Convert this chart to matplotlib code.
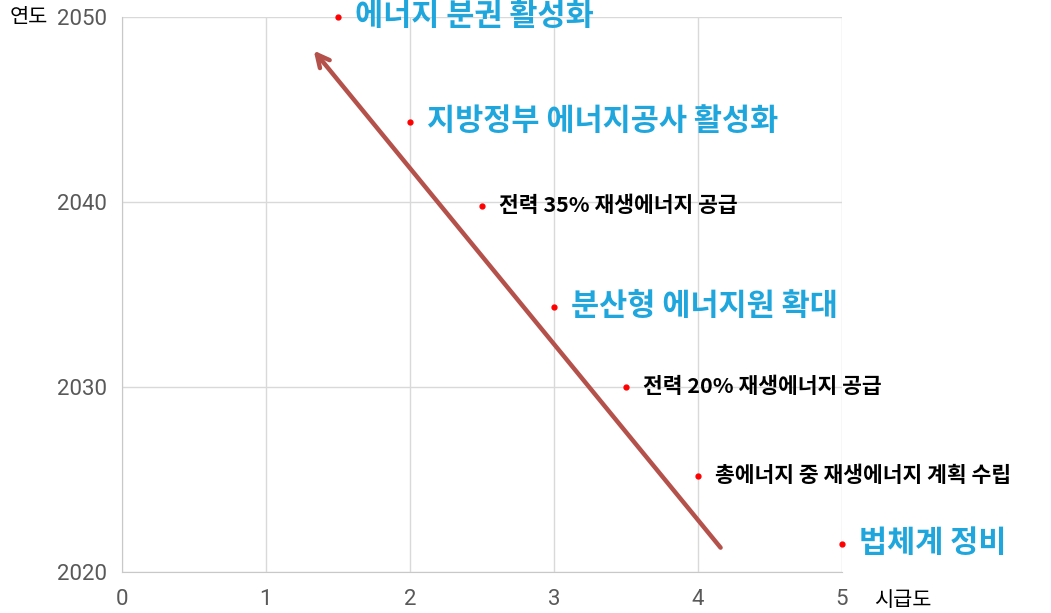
import matplotlib.pyplot as plt

plt.rcParams['font.family'] = ['Noto Sans CJK KR', 'DejaVu Sans']

# 시급도(x) vs 연도(y)
urgency = [1.5, 2.0, 2.5, 3.0, 3.5, 4.0, 5.0]
years = [2050, 2044.3, 2039.8, 2034.3, 2030, 2025.2, 2021.5]
labels = ['에너지 분권 활성화', '지방정부 에너지공사 활성화', '전력 35% 재생에너지 공급',
          '분산형 에너지원 확대', '전력 20% 재생에너지 공급', '총에너지 중 재생에너지 계획 수립',
          '법체계 정비']
highlight = [True, True, False, True, False, False, True]

arrow_start = (4.17, 2021.2)
arrow_end = (1.32, 2048.3)

xticks = [0, 1, 2, 3, 4, 5]
yticks = [2020, 2030, 2040, 2050]

fig = plt.figure(figsize=(10.51, 6.13), dpi=100)
ax = fig.add_axes([0.116, 0.0669, 0.685, 0.9054])
ax.set_xlim(0, 5)
ax.set_ylim(2020, 2050)

ax.plot(urgency, years, 'o', color='#ff0000', markersize=3.5, linestyle='none',
        zorder=3, clip_on=False)

for x, y, s, hl in zip(urgency, years, labels, highlight):
    if hl:
        ax.annotate(s, (x, y), xytext=(12, 1), textcoords='offset points',
                    va='center', ha='left', fontsize=22, color='#1fa6dd',
                    fontweight='bold', annotation_clip=False)
    else:
        ax.annotate(s, (x, y), xytext=(12, 0), textcoords='offset points',
                    va='center', ha='left', fontsize=15.5, color='black',
                    fontweight='bold', annotation_clip=False)

ax.annotate('', xy=arrow_end, xytext=arrow_start,
            arrowprops=dict(arrowstyle='->, head_length=0.9, head_width=0.45',
                            color='#b5514b', lw=3.2), zorder=2)

ax.set_xticks(xticks)
ax.set_yticks(yticks)
ax.grid(True, color='#d9d9d9', linewidth=1)
ax.set_axisbelow(True)
for side in ['top', 'right']:
    ax.spines[side].set_visible(False)
for side in ['left', 'bottom']:
    ax.spines[side].set_color('#c8c8c8')
ax.tick_params(length=0, labelsize=16, labelcolor='#595959')
ax.tick_params(axis='x', pad=12)
ax.tick_params(axis='y', pad=11)
for lab in ax.get_xticklabels() + ax.get_yticklabels():
    lab.set_family(['Roboto', 'DejaVu Sans'])

fig.text(0.027, 0.972, '연도', fontsize=15, va='center', ha='center')
fig.text(0.859, 0.022, '시급도', fontsize=15, va='center', ha='center')

fig.savefig('out.png', dpi=100)
